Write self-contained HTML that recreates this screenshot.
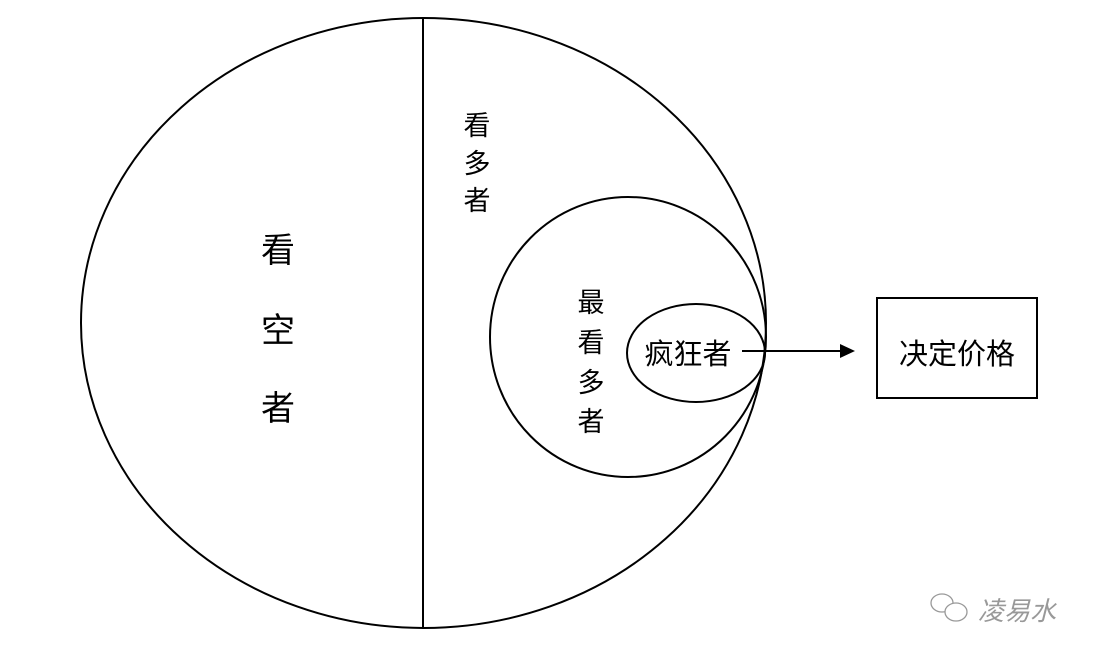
<!DOCTYPE html>
<html><head><meta charset="utf-8"><style>
html,body{margin:0;padding:0;background:#fff;}
svg text{font-family:"Liberation Sans","Noto Sans CJK SC",sans-serif;fill:#000;}
</style></head><body>
<svg width="1096" height="658" viewBox="0 0 1096 658" xmlns="http://www.w3.org/2000/svg">
<rect width="1096" height="658" fill="#fff"/>
<g fill="none" stroke="#000" stroke-width="2">
<ellipse cx="423.5" cy="323" rx="342.5" ry="305"/>
<line x1="423" y1="19" x2="423" y2="627"/>
<ellipse cx="628" cy="337" rx="138" ry="140"/>
<ellipse cx="696" cy="353" rx="69" ry="49"/>
<line x1="742" y1="351" x2="842" y2="351"/>
<rect x="877" y="298" width="160" height="100"/>
</g>
<polygon points="840,344 855,351 840,358" fill="#000"/>
<g font-size="34" text-anchor="middle">
<text x="278" y="262">看</text>
<text x="278" y="342">空</text>
<text x="278" y="420">者</text>
</g>
<g font-size="27" text-anchor="middle">
<text x="477" y="135">看</text>
<text x="477" y="173">多</text>
<text x="477" y="210">者</text>
<text x="591" y="312">最</text>
<text x="591" y="352">看</text>
<text x="591" y="392">多</text>
<text x="591" y="431">者</text>
</g>
<g font-size="29" text-anchor="middle">
<text x="688" y="364">疯狂者</text>
<text x="957" y="364">决定价格</text>
</g>
<g stroke="#999" fill="#fff" stroke-width="1.3">
<ellipse cx="942" cy="603" rx="11" ry="9"/>
<ellipse cx="956" cy="612" rx="11" ry="9"/>
</g>
<text x="978" y="620" font-size="26" style="fill:#999;font-style:italic">凌易水</text>
</svg>
</body></html>
